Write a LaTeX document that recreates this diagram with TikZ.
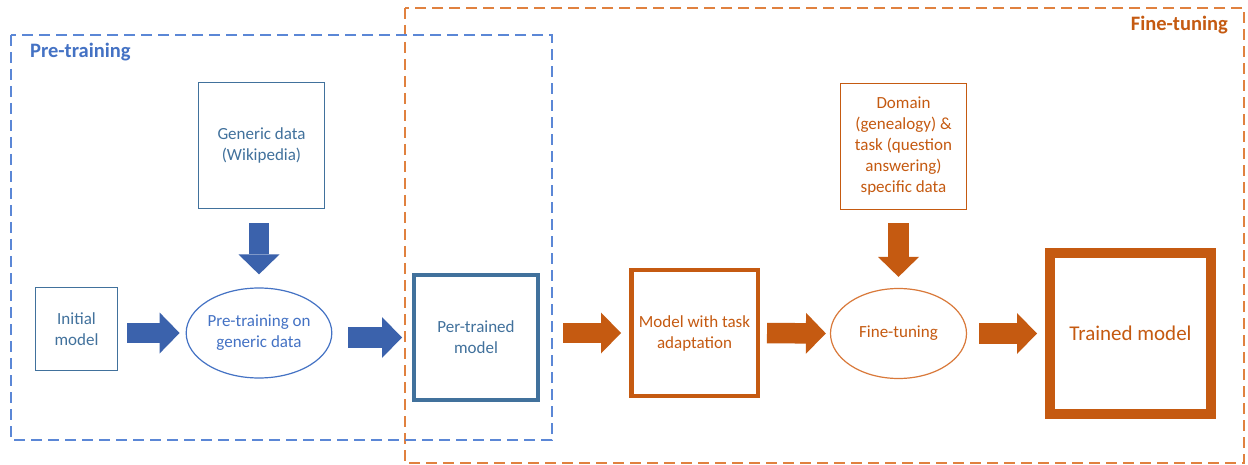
\documentclass[tikz,border=0pt]{standalone}
\usepackage{fontspec}
\setmainfont{Carlito}
\usepackage{xcolor}
\usepackage{tikz}
\usetikzlibrary{arrows.meta,positioning,shapes.geometric}
\definecolor{bg}{HTML}{FFFFFF}
\definecolor{ptdash}{HTML}{5B87D6}
\definecolor{ptlab}{HTML}{4472C4}
\definecolor{ptbox}{HTML}{41719C}
\definecolor{ptarrow}{HTML}{3B62AC}
\definecolor{ftdash}{HTML}{E0813F}
\definecolor{ftorange}{HTML}{C55A11}
\definecolor{ftline}{HTML}{D9793A}
\tikzset{
  txt/.style={font=\fontsize{17}{21}\selectfont, align=center, inner sep=0pt},
  frame/.style={dash pattern=on 11pt off 6pt, line width=1.5pt},
  flab/.style={font=\fontsize{20.5}{23}\selectfont\bfseries, inner sep=0pt},
  pbox/.style={txt, rectangle, draw=ptbox, text=ptbox, line width=1.2pt},
  pell/.style={txt, ellipse, draw=ptlab, text=ptlab, line width=1.2pt},
  fbox/.style={txt, rectangle, draw=ftorange, text=ftorange, line width=1.2pt},
  fell/.style={txt, ellipse, draw=ftline, text=ftorange, line width=1.2pt},
  blk/.style={line width=20.5pt, -{Triangle[length=20pt,width=41pt,line width=0pt]}},
  pblk/.style={blk, draw=ptarrow, fill=ptarrow},
  fblk/.style={blk, draw=ftorange, fill=ftorange},
}
\begin{document}
\begin{tikzpicture}[x=1pt,y=-1pt]
\useasboundingbox[fill=bg] (0,0) rectangle (1248,465);
% stage frames
\draw[frame, draw=ftdash] (405,8) rectangle (1244,463);
\draw[frame, draw=ptdash] (11,35) rectangle (552,440);
\node[flab, text=ptlab, anchor=west] (ptlabel) at (30,52) {Pre-training};
\node[flab, text=ftorange, anchor=east] (ftlabel) at (1228,25) {Fine-tuning};
% pre-training
\node[pbox, minimum width=82pt, minimum height=83pt] (init) at (76.5,329) {Initial\\model};
\node[pbox, minimum width=126pt, minimum height=126pt] (gen) at (261.5,145.5) {Generic data\\(Wikipedia)};
\node[pell, minimum width=135pt, minimum height=90pt] (pre) at (259,333) {Pre-training on\\generic data};
\node[pbox, line width=4pt, minimum width=124pt, minimum height=125pt] (pt) at (476,337.5) {Per-trained\\model};
% fine-tuning
\node[fbox, line width=4.5pt, minimum width=126.5pt, minimum height=125.5pt] (task) at (694.5,333) {Model with task\\adaptation};
\node[fbox, minimum width=126pt, minimum height=126pt] (dom) at (903.5,146.5) {Domain\\(genealogy) \&\\task (question\\answering)\\specific data};
\node[fell, minimum width=136pt, minimum height=90pt] (ft) at (898.5,333.5) {Fine-tuning};
\node[fbox, line width=10pt, font=\fontsize{21}{24}\selectfont, minimum width=161pt, minimum height=161pt] (trained) at (1130.5,333.5) {Trained model};
% block arrows
\draw[pblk, shorten <=9pt, shorten >=6pt] (init.east |- pre.center) -- (pre.west);
\draw[pblk, shorten <=14pt, shorten >=13pt] (gen.south -| pre.north) -- (pre.north);
\draw[pblk, shorten <=16pt, shorten >=10pt] (pre.east |- pt.center) -- (pt.west);
\draw[fblk, shorten <=23pt, shorten >=8pt] (pt.east |- task.center) -- (task.west);
\draw[fblk, shorten <=7pt, shorten >=4pt] (task.east) -- (ft.west);
\draw[fblk, shorten <=13pt, shorten >=11pt] (ft.north |- dom.south) -- (ft.north);
\draw[fblk, shorten <=12pt, shorten >=8pt] (ft.east) -- (trained.west);
\end{tikzpicture}
\end{document}
